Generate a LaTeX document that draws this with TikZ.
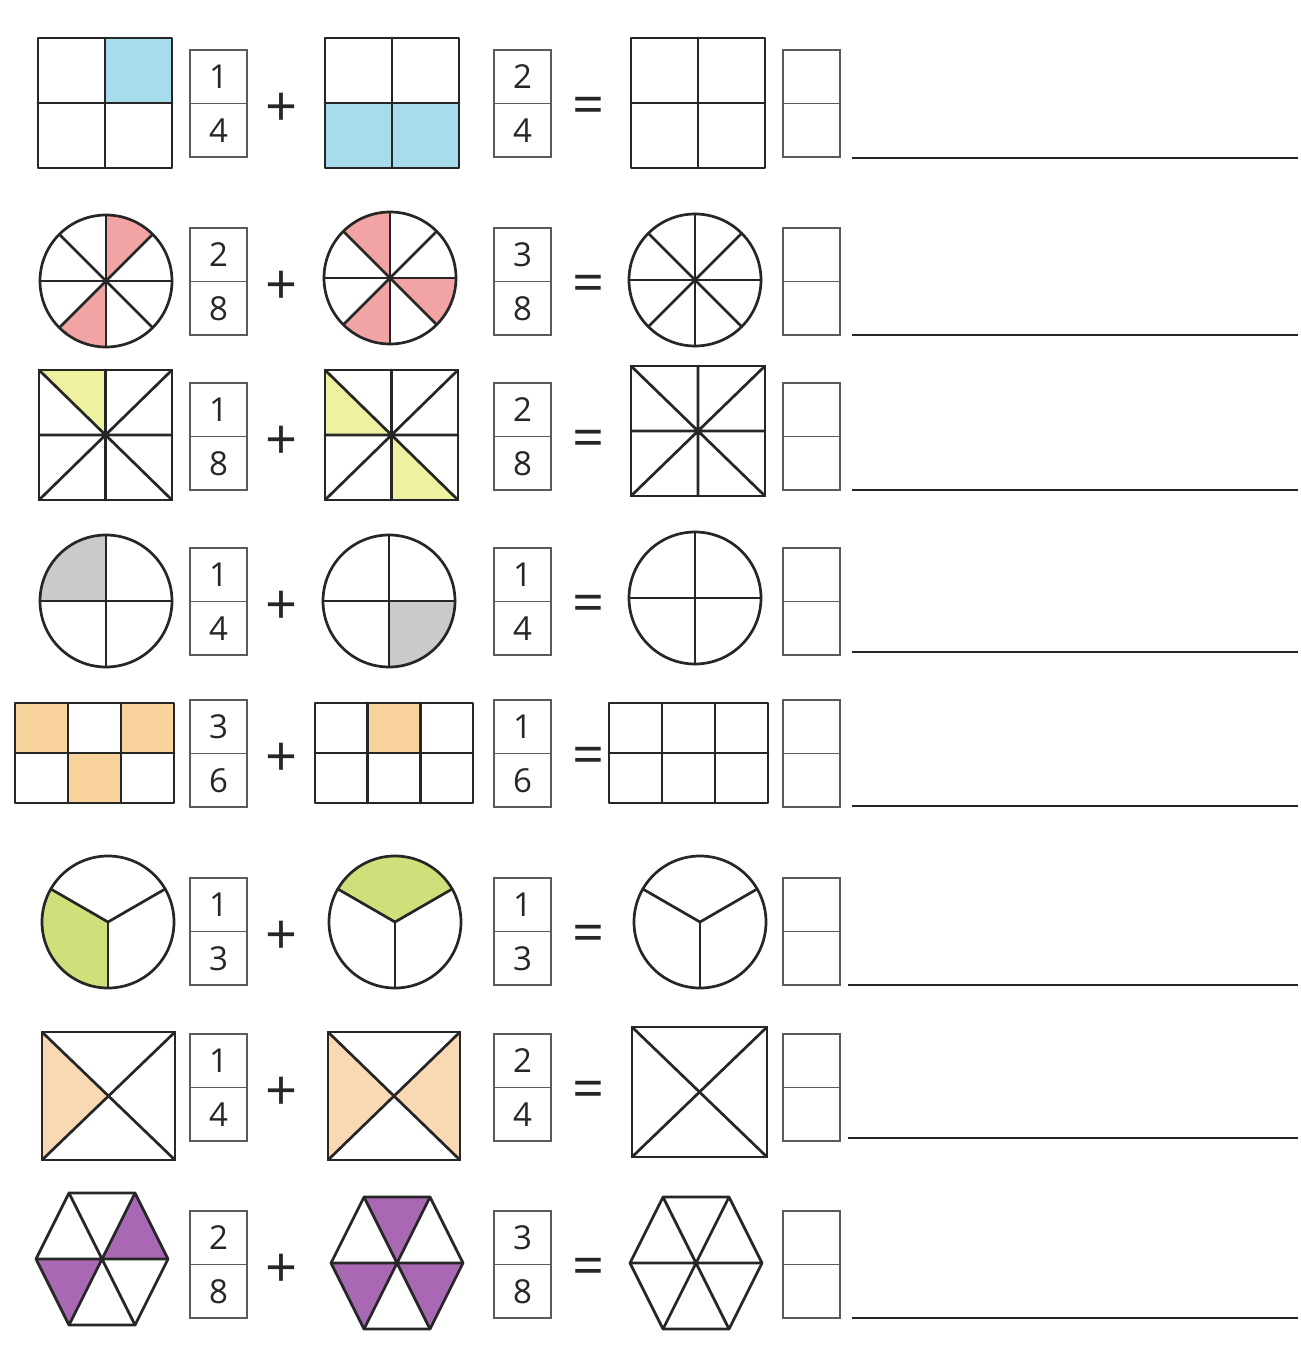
\documentclass[tikz,border=0pt]{standalone}
\usepackage{fontspec}
\setmainfont{Open Sans}
\definecolor{cblue}{HTML}{A6DCEC}
\definecolor{cpink}{HTML}{F2A3A3}
\definecolor{cyel}{HTML}{EEF2A0}
\definecolor{cgray}{HTML}{C9CACA}
\definecolor{corange}{HTML}{F8D39C}
\definecolor{cgreen}{HTML}{CFE07A}
\definecolor{cpeach}{HTML}{F9D9B3}
\definecolor{cpurple}{HTML}{A868B3}
\definecolor{cline}{HTML}{262626}
\definecolor{cbox}{HTML}{5A5A5A}
\tikzset{
  shp/.style={draw=cline, line width=1.35pt, line join=round, line cap=round},
  fboxst/.style={draw=cbox, line width=0.8pt, minimum width=28.5pt, minimum height=53.5pt, inner sep=0pt, fill=white},
  digit/.style={font=\fontsize{16.5}{18}\selectfont, text=black!85, inner sep=0pt},
  opsign/.style={font=\fontsize{28}{30}\selectfont, text=black!85, inner sep=0pt},
  ansline/.style={draw=cline, line width=1.1pt}
}
% fraction box: name, left x, top y, numerator, denominator
\newcommand{\fracb}[5]{%
  \node[fboxst] (#1) at (#2+28.5,#3+53.5) {};
  \draw[draw=cbox, line width=0.8pt] (#1.west) -- (#1.east);
  \node[digit] (#1n) at (#2+28.5,#3+27) {#4};
  \node[digit] (#1d) at (#2+28.5,#3+80.5) {#5};
}
% sector fill: colour, cx, cy, start, end, radius
\newcommand{\sect}[6]{\fill[#1] (#2,#3) -- +(#4:#6) arc[start angle=#4, end angle=#5, radius=#6] -- cycle;}
% hexagon outline with spokes at centre cx, cy
\newcommand{\hexa}[2]{%
  \draw[shp] (#1+66,#2) -- (#1+33,#2-66) -- (#1-33,#2-66) -- (#1-66,#2) -- (#1-33,#2+66) -- (#1+33,#2+66) -- cycle;
  \draw[shp] (#1+66,#2) -- (#1-66,#2) (#1+33,#2-66) -- (#1-33,#2+66) (#1-33,#2-66) -- (#1+33,#2+66);
}
% square with 8 triangles: x0 y0 x1 y1
\newcommand{\eightsq}[4]{%
  \draw[shp] (#1,#2) rectangle (#3,#4);
  \draw[shp] (#1,#2) -- (#3,#4) (#1,#4) -- (#3,#2) ({(#1+#3)/2},#2) -- ({(#1+#3)/2},#4) (#1,{(#2+#4)/2}) -- (#3,{(#2+#4)/2});
}
\newcommand{\xsq}[4]{%
  \draw[shp] (#1,#2) rectangle (#3,#4);
  \draw[shp] (#1,#2) -- (#3,#4) (#1,#4) -- (#3,#2);
}
\newcommand{\quadsq}[4]{%
  \draw[shp] (#1,#2) rectangle (#3,#4);
  \draw[shp] ({(#1+#3)/2},#2) -- ({(#1+#3)/2},#4) (#1,{(#2+#4)/2}) -- (#3,{(#2+#4)/2});
}
\newcommand{\sixrect}[4]{%
  \draw[shp] (#1,#2) rectangle (#3,#4);
  \draw[shp] ({#1+(#3-#1)/3},#2) -- ({#1+(#3-#1)/3},#4) ({#1+2*(#3-#1)/3},#2) -- ({#1+2*(#3-#1)/3},#4) (#1,{(#2+#4)/2}) -- (#3,{(#2+#4)/2});
}
\begin{document}
\begin{tikzpicture}[x=0.5pt, y=-0.5pt]
\useasboundingbox[fill=white] (0,0) rectangle (1300,1347);

% ---------- Row 1 ----------
\fill[cblue] (105,38) rectangle (172,103);
\quadsq{38}{38}{172}{168}
\fracb{f1a}{190}{50}{1}{4}
\node[opsign] (p1) at (282,110) {+};
\fill[cblue] (325,103) rectangle (459,168);
\quadsq{325}{38}{459}{168}
\fracb{f1b}{494}{50}{2}{4}
\node[opsign] (e1) at (588,111) {=};
\quadsq{631}{38}{765}{168}
\fracb{a1}{783}{50}{}{}
\draw[ansline] (852,158) -- (1298,158);

% ---------- Row 2 ----------
\sect{cpink}{106}{281}{-45}{-90}{66}
\sect{cpink}{106}{281}{-225}{-270}{66}
\draw[shp] (106,281) circle[radius=66];
\foreach \a in {0,45,...,315} \draw[shp] (106,281) -- +(\a:66);
\fracb{f2a}{190}{228}{2}{8}
\node[opsign] (p2) at (282,288) {+};
\sect{cpink}{390}{278}{-90}{-135}{66}
\sect{cpink}{390}{278}{-315}{-360}{66}
\sect{cpink}{390}{278}{-225}{-270}{66}
\draw[shp] (390,278) circle[radius=66];
\foreach \a in {0,45,...,315} \draw[shp] (390,278) -- +(\a:66);
\fracb{f2b}{494}{228}{3}{8}
\node[opsign] (e2) at (588,289) {=};
\draw[shp] (695,280) circle[radius=66];
\foreach \a in {0,45,...,315} \draw[shp] (695,280) -- +(\a:66);
\fracb{a2}{783}{228}{}{}
\draw[ansline] (852,335) -- (1298,335);

% ---------- Row 3 ----------
\fill[cyel] (39,370) -- (105.5,370) -- (105.5,435) -- cycle;
\eightsq{39}{370}{172}{500}
\fracb{f3a}{190}{383}{1}{8}
\node[opsign] (p3) at (282,443) {+};
\fill[cyel] (325,370) -- (391.5,435) -- (325,435) -- cycle;
\fill[cyel] (391.5,435) -- (458,500) -- (391.5,500) -- cycle;
\eightsq{325}{370}{458}{500}
\fracb{f3b}{494}{383}{2}{8}
\node[opsign] (e3) at (588,444) {=};
\eightsq{631}{366}{765}{496}
\fracb{a3}{783}{383}{}{}
\draw[ansline] (852,490) -- (1298,490);

% ---------- Row 4 ----------
\sect{cgray}{106}{601}{-90}{-180}{66}
\draw[shp] (106,601) circle[radius=66];
\foreach \a in {0,90,180,270} \draw[shp] (106,601) -- +(\a:66);
\fracb{f4a}{190}{548}{1}{4}
\node[opsign] (p4) at (282,608) {+};
\sect{cgray}{389}{601}{0}{90}{66}
\draw[shp] (389,601) circle[radius=66];
\foreach \a in {0,90,180,270} \draw[shp] (389,601) -- +(\a:66);
\fracb{f4b}{494}{548}{1}{4}
\node[opsign] (e4) at (588,609) {=};
\draw[shp] (695,598) circle[radius=66];
\foreach \a in {0,90,180,270} \draw[shp] (695,598) -- +(\a:66);
\fracb{a4}{783}{548}{}{}
\draw[ansline] (852,652) -- (1298,652);

% ---------- Row 5 ----------
\fill[corange] (15,703) rectangle (68,753);
\fill[corange] (121,703) rectangle (174,753);
\fill[corange] (68,753) rectangle (121,803);
\sixrect{15}{703}{174}{803}
\fracb{f5a}{190}{700}{3}{6}
\node[opsign] (p5) at (282,760) {+};
\fill[corange] (368,703) rectangle (420,753);
\sixrect{315}{703}{473}{803}
\fracb{f5b}{494}{700}{1}{6}
\node[opsign] (e5) at (588,761) {=};
\sixrect{609}{703}{768}{803}
\fracb{a5}{783}{700}{}{}
\draw[ansline] (852,806) -- (1298,806);

% ---------- Row 6 ----------
\sect{cgreen}{108}{922}{-150}{-270}{66}
\draw[shp] (108,922) circle[radius=66];
\foreach \a in {-30,-150,-270} \draw[shp] (108,922) -- +(\a:66);
\fracb{f6a}{190}{878}{1}{3}
\node[opsign] (p6) at (282,938) {+};
\sect{cgreen}{395}{922}{-30}{-150}{66}
\draw[shp] (395,922) circle[radius=66];
\foreach \a in {-30,-150,-270} \draw[shp] (395,922) -- +(\a:66);
\fracb{f6b}{494}{878}{1}{3}
\node[opsign] (e6) at (588,939) {=};
\draw[shp] (700,922) circle[radius=66];
\foreach \a in {-30,-150,-270} \draw[shp] (700,922) -- +(\a:66);
\fracb{a6}{783}{878}{}{}
\draw[ansline] (848,985) -- (1298,985);

% ---------- Row 7 ----------
\fill[cpeach] (42,1032) -- (108.5,1096) -- (42,1160) -- cycle;
\xsq{42}{1032}{175}{1160}
\fracb{f7a}{190}{1034}{1}{4}
\node[opsign] (p7) at (282,1094) {+};
\fill[cpeach] (328,1032) -- (394,1096) -- (328,1160) -- cycle;
\fill[cpeach] (460,1032) -- (394,1096) -- (460,1160) -- cycle;
\xsq{328}{1032}{460}{1160}
\fracb{f7b}{494}{1034}{2}{4}
\node[opsign] (e7) at (588,1095) {=};
\xsq{632}{1027}{767}{1157}
\fracb{a7}{783}{1034}{}{}
\draw[ansline] (848,1138) -- (1298,1138);

% ---------- Row 8 ----------
\fill[cpurple] (102,1259) -- (168,1259) -- (135,1193) -- cycle;
\fill[cpurple] (102,1259) -- (36,1259) -- (69,1325) -- cycle;
\hexa{102}{1259}
\fracb{f8a}{190}{1211}{2}{8}
\node[opsign] (p8) at (282,1271) {+};
\fill[cpurple] (397,1263) -- (430,1197) -- (364,1197) -- cycle;
\fill[cpurple] (397,1263) -- (331,1263) -- (364,1329) -- cycle;
\fill[cpurple] (397,1263) -- (463,1263) -- (430,1329) -- cycle;
\hexa{397}{1263}
\fracb{f8b}{494}{1211}{3}{8}
\node[opsign] (e8) at (588,1272) {=};
\hexa{696}{1263}
\fracb{a8}{783}{1211}{}{}
\draw[ansline] (852,1318) -- (1298,1318);
\end{tikzpicture}
\end{document}
